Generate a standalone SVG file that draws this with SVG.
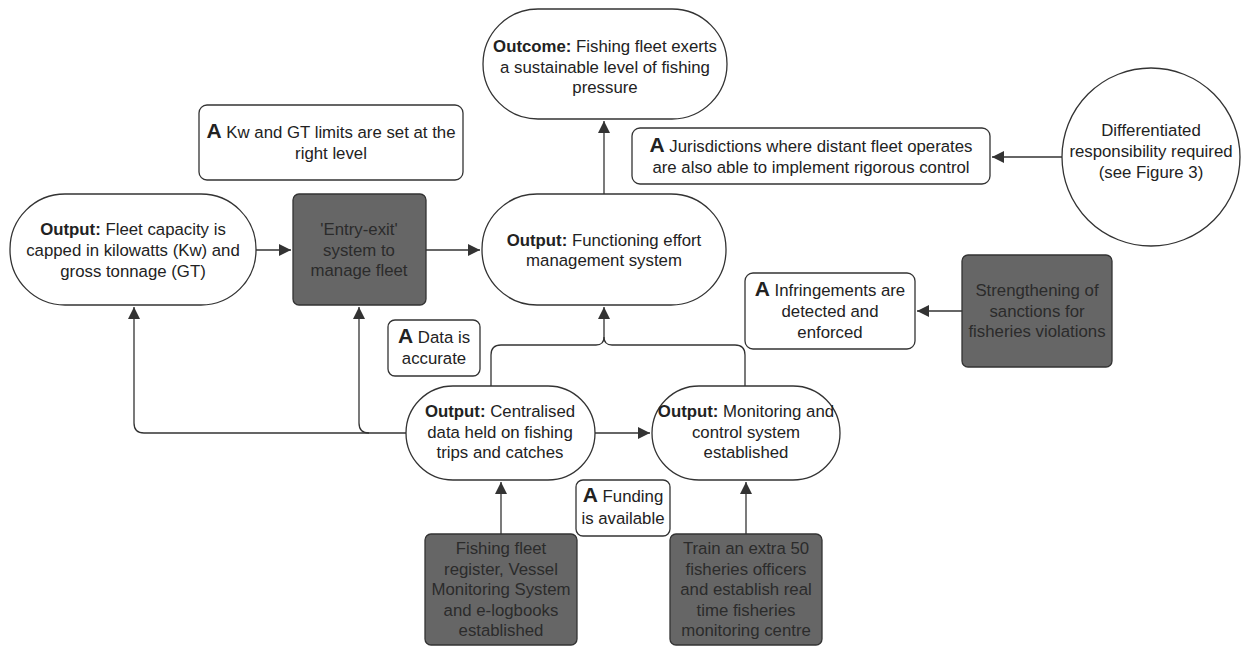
<svg xmlns="http://www.w3.org/2000/svg" width="1252" height="646" viewBox="0 0 1252 646">
<defs>
<marker id="ah" viewBox="0 0 10 10" refX="10" refY="5" markerWidth="12" markerHeight="12" markerUnits="userSpaceOnUse" orient="auto">
<path d="M0,0 L10,5 L0,10 Z" fill="#333"/>
</marker>
<style>
.n{fill:#fff;stroke:#333;stroke-width:1.3}
.d{fill:#666;stroke:#333;stroke-width:1.3}
text{font-family:"Liberation Sans",Arial,sans-serif;font-size:16.8px;fill:#222;text-anchor:middle}
.dt{fill:#2b2b2b}
.b{font-weight:bold}
.a{font-weight:bold;font-size:21px}
.c{fill:none;stroke:#333;stroke-width:1.3}
</style>
</defs>
<rect width="1252" height="646" fill="#fff"/>
<g id="connectors">
<path class="c" d="M256,250 H291" marker-end="url(#ah)"/>
<path class="c" d="M426,250 H480" marker-end="url(#ah)"/>
<path class="c" d="M604,194 V121" marker-end="url(#ah)"/>
<path class="c" d="M1062,157 H992" marker-end="url(#ah)"/>
<path class="c" d="M962,311 H917" marker-end="url(#ah)"/>
<path class="c" d="M406,433 H144 Q134,433 134,423 V307" marker-end="url(#ah)"/>
<path class="c" d="M369,433 Q359,433 359,423 V307" marker-end="url(#ah)"/>
<path class="c" d="M491,386 V355 Q491,345 501,345 H596 Q604,345 604,337 V307" marker-end="url(#ah)"/>
<path class="c" d="M745,386 V355 Q745,345 735,345 H612 Q604,345 604,337"/>
<path class="c" d="M595,433 H650" marker-end="url(#ah)"/>
<path class="c" d="M501,534 V482" marker-end="url(#ah)"/>
<path class="c" d="M746,534 V482" marker-end="url(#ah)"/>
</g>
<g id="outcome">
<rect class="n" x="483" y="9" width="244" height="110" rx="55"/>
<text x="605" y="52"><tspan class="b">Outcome:</tspan> Fishing fleet exerts</text>
<text x="605" y="73">a sustainable level of fishing</text>
<text x="605" y="93">pressure</text>
</g>
<g id="a-kw">
<rect class="n" x="199" y="105" width="264" height="75" rx="8"/>
<text x="331" y="138"><tspan class="a">A</tspan> Kw and GT limits are set at the</text>
<text x="331" y="159">right level</text>
</g>
<g id="a-jurisdictions">
<rect class="n" x="632" y="128" width="358" height="56" rx="8"/>
<text x="811" y="152"><tspan class="a">A</tspan> Jurisdictions where distant fleet operates</text>
<text x="811" y="173">are also able to implement rigorous control</text>
</g>
<g id="differentiated">
<circle class="n" cx="1151" cy="157" r="89"/>
<text x="1151" y="136">Differentiated</text>
<text x="1151" y="157">responsibility required</text>
<text x="1151" y="178">(see Figure 3)</text>
</g>
<g id="fleet-capacity">
<rect class="n" x="10" y="194" width="246" height="111" rx="55"/>
<text x="133" y="235"><tspan class="b">Output:</tspan> Fleet capacity is</text>
<text x="133" y="256">capped in kilowatts (Kw) and</text>
<text x="133" y="277">gross tonnage (GT)</text>
</g>
<g id="entry-exit">
<rect class="d" x="293" y="194" width="133" height="111" rx="6"/>
<text class="dt" x="359" y="235">'Entry-exit'</text>
<text class="dt" x="359" y="256">system to</text>
<text class="dt" x="359" y="276">manage fleet</text>
</g>
<g id="functioning">
<rect class="n" x="482" y="194" width="244" height="111" rx="55"/>
<text x="604" y="246"><tspan class="b">Output:</tspan> Functioning effort</text>
<text x="604" y="266">management system</text>
</g>
<g id="a-infringements">
<rect class="n" x="745" y="273" width="170" height="76" rx="8"/>
<text x="830" y="296"><tspan class="a">A</tspan> Infringements are</text>
<text x="830" y="317">detected and</text>
<text x="830" y="338">enforced</text>
</g>
<g id="strengthening">
<rect class="d" x="962" y="255" width="150" height="112" rx="6"/>
<text class="dt" x="1037" y="296">Strengthening of</text>
<text class="dt" x="1037" y="317">sanctions for</text>
<text class="dt" x="1037" y="337">fisheries violations</text>
</g>
<g id="a-data">
<rect class="n" x="388" y="320" width="92" height="56" rx="7"/>
<text x="434" y="343"><tspan class="a">A</tspan> Data is</text>
<text x="434" y="364">accurate</text>
</g>
<g id="centralised">
<rect class="n" x="406" y="386" width="189" height="94" rx="47"/>
<text x="500" y="417"><tspan class="b">Output:</tspan> Centralised</text>
<text x="500" y="438">data held on fishing</text>
<text x="500" y="458">trips and catches</text>
</g>
<g id="monitoring">
<rect class="n" x="652" y="386" width="188" height="94" rx="47"/>
<text x="746" y="417"><tspan class="b">Output:</tspan> Monitoring and</text>
<text x="746" y="438">control system</text>
<text x="746" y="458">established</text>
</g>
<g id="a-funding">
<rect class="n" x="576" y="480" width="94" height="56" rx="7"/>
<text x="623" y="502"><tspan class="a">A</tspan> Funding</text>
<text x="623" y="524">is available</text>
</g>
<g id="fleet-register">
<rect class="d" x="425" y="534" width="152" height="111" rx="6"/>
<text class="dt" x="501" y="554">Fishing fleet</text>
<text class="dt" x="501" y="575">register, Vessel</text>
<text class="dt" x="501" y="595">Monitoring System</text>
<text class="dt" x="501" y="616">and e-logbooks</text>
<text class="dt" x="501" y="636">established</text>
</g>
<g id="train-officers">
<rect class="d" x="670" y="534" width="152" height="111" rx="6"/>
<text class="dt" x="746" y="554">Train an extra 50</text>
<text class="dt" x="746" y="575">fisheries officers</text>
<text class="dt" x="746" y="595">and establish real</text>
<text class="dt" x="746" y="616">time fisheries</text>
<text class="dt" x="746" y="636">monitoring centre</text>
</g>
</svg>
